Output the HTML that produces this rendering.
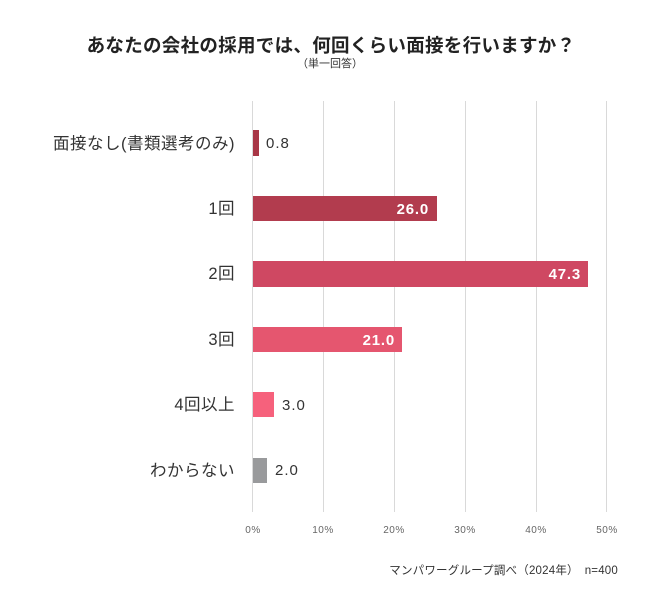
<!DOCTYPE html>
<html><head><meta charset="utf-8"><style>
body{margin:0;background:#fff;}
svg text{font-family:"Liberation Sans","Noto Sans CJK JP",sans-serif;}
</style></head><body>
<svg width="660" height="603" xmlns="http://www.w3.org/2000/svg">
<rect width="660" height="603" fill="#fff"/>
<text x="331" y="52" text-anchor="middle" font-size="18.5" font-weight="bold" fill="#222" letter-spacing="0.3">あなたの会社の採用では、何回くらい面接を行いますか？</text>
<text x="330" y="67" text-anchor="middle" font-size="11" fill="#333">（単一回答）</text>
<g stroke="#d9d9d9" stroke-width="1">
<line x1="252.5" y1="101" x2="252.5" y2="512"/>
<line x1="323.5" y1="101" x2="323.5" y2="512"/>
<line x1="394.5" y1="101" x2="394.5" y2="512"/>
<line x1="465.5" y1="101" x2="465.5" y2="512"/>
<line x1="536.5" y1="101" x2="536.5" y2="512"/>
<line x1="606.5" y1="101" x2="606.5" y2="512"/>
</g>
<g font-size="10" fill="#666" text-anchor="middle" letter-spacing="0.5">
<text x="253" y="533">0%</text><text x="323" y="533">10%</text><text x="394" y="533">20%</text>
<text x="465" y="533">30%</text><text x="536" y="533">40%</text><text x="607" y="533">50%</text>
</g>
<rect x="253" y="130" width="6" height="26" fill="#a83646"/>
<rect x="253" y="196" width="184" height="25" fill="#b23c4e"/>
<rect x="253" y="261" width="335" height="26" fill="#cf4862"/>
<rect x="253" y="327" width="149" height="25" fill="#e5566f"/>
<rect x="253" y="392" width="21" height="25" fill="#f6617c"/>
<rect x="253" y="458" width="14" height="25" fill="#999a9c"/>
<g font-size="16.5" fill="#333" text-anchor="end" letter-spacing="0.5">
<text x="235" y="149">面接なし(書類選考のみ)</text>
<text x="235" y="214">1回</text>
<text x="235" y="279">2回</text>
<text x="235" y="345">3回</text>
<text x="235" y="410">4回以上</text>
<text x="235" y="476">わからない</text>
</g>
<g font-size="15" fill="#333" letter-spacing="1">
<text x="266" y="148">0.8</text>
<text x="282" y="410">3.0</text>
<text x="275" y="475">2.0</text>
</g>
<g font-size="15" fill="#fff" font-weight="bold" text-anchor="end" letter-spacing="0.8">
<text x="429" y="214">26.0</text>
<text x="581" y="279">47.3</text>
<text x="395" y="345">21.0</text>
</g>
<text x="618" y="574" text-anchor="end" font-size="11.5" fill="#333" letter-spacing="0.2">マンパワーグループ調べ（2024年）　n=400</text>
</svg>
</body></html>
